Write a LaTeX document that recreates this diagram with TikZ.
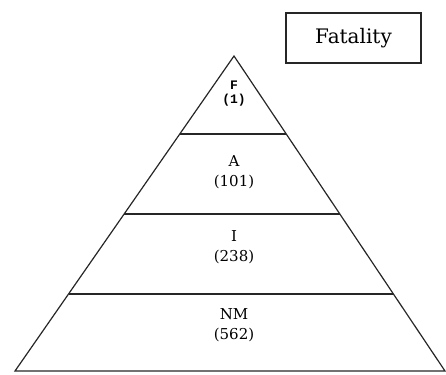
\documentclass[tikz,border=0pt]{standalone}
\usepackage{fontspec}
\setmainfont{DejaVu Serif}
\newfontfamily\monob{Liberation Mono}[BoldFont={Liberation Mono Bold}]
\usetikzlibrary{calc}
\tikzset{
  edge/.style={draw=black!85, line width=1.2pt},
  divider/.style={draw=black!85, line width=1.8pt},
  lbl/.style={align=center, font=\fontsize{15}{18}\selectfont, inner sep=0pt},
  toplbl/.style={align=center, font=\fontsize{13}{14}\selectfont\monob\bfseries, inner sep=0pt},
  titlebox/.style={draw=black!85, line width=1.3pt, minimum width=135pt, minimum height=50pt, font=\fontsize{20}{24}\selectfont}
}
\begin{document}
\begin{tikzpicture}[x=1pt,y=-1pt]
\useasboundingbox (0,0) rectangle (446,374);
\coordinate (apex) at (234,56);
\coordinate (bl) at (15,371);
\coordinate (br) at (445,371);
\draw[edge] (apex) -- (bl) -- (br) -- cycle;
\foreach \t/\n in {0.2476/a,0.5016/b,0.7556/c}{
  \coordinate (l\n) at ($(apex)!\t!(bl)$);
  \coordinate (r\n) at ($(apex)!\t!(br)$);
  \draw[divider] (l\n) -- (r\n);
}
\node[titlebox] (title) at (353.5,38) {Fatality};
\node[toplbl] (f) at (234,94) {F\\(1)};
\node[lbl] (a) at (234,172) {A\\[2pt](101)};
\node[lbl] (i) at (234,247) {I\\[2pt](238)};
\node[lbl] (nm) at (234,325) {NM\\[2pt](562)};
\end{tikzpicture}
\end{document}
